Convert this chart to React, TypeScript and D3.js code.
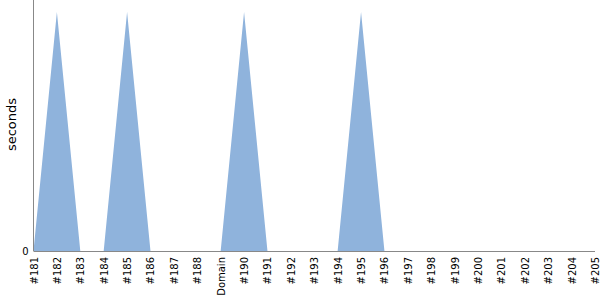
import React from "react";
import * as d3 from "d3";

const categories = ["#181","#182","#183","#184","#185","#186","#187","#188","Domain","#190","#191","#192","#193","#194","#195","#196","#197","#198","#199","#200","#201","#202","#203","#204","#205"];
const values = [0,1,0,0,1,0,0,0,0,1,0,0,0,0,1,0,0,0,0,0,0,0,0,0,0];
const yTicks = [0];
const FONT = "'DejaVu Sans'";

export default function App() {
  const W = 600, H = 300;
  const left = 33.5, right = 595, top = 0, bottom = 251;
  const x = d3.scalePoint<string>().domain(categories).range([left, right]);
  const y = d3.scaleLinear().domain([0, d3.max(values)! * 1.05]).range([bottom, top]);
  const data = categories.map((c, i) => ({ c, v: values[i] }));
  const area = d3.area<{ c: string; v: number }>()
    .x(d => x(d.c)!)
    .y0(y(0))
    .y1(d => y(d.v));
  return (
    <svg width={W} height={H} style={{ position: "absolute", left: 0, top: 0 }} fontFamily={FONT}>
      <path d={area(data)!} fill="#8fb3dc" />
      <line x1={left} x2={left} y1={top} y2={bottom} stroke="#888" strokeWidth={1} />
      <line x1={left} x2={right} y1={bottom + 0.5} y2={bottom + 0.5} stroke="#888" strokeWidth={1} />
      {yTicks.map(t => (
        <text key={t} x={left - 5} y={y(t)} dy="0.35em" textAnchor="end" fontSize={10} fontFamily={FONT} fill="#000">{t}</text>
      ))}
      {categories.map(c => (
        <text key={c} transform={`translate(${x(c)! + 0.5},${bottom + 6}) rotate(-90)`} dy="0.35em" textAnchor="end" fontSize={10} fontFamily={FONT} fill="#000">{c}</text>
      ))}
      <text transform={`translate(11,${(top + bottom) / 2 - 1}) rotate(-90)`} textAnchor="middle" dy="0.35em" fontSize={13} fontFamily={FONT} fill="#000">seconds</text>
    </svg>
  );
}
